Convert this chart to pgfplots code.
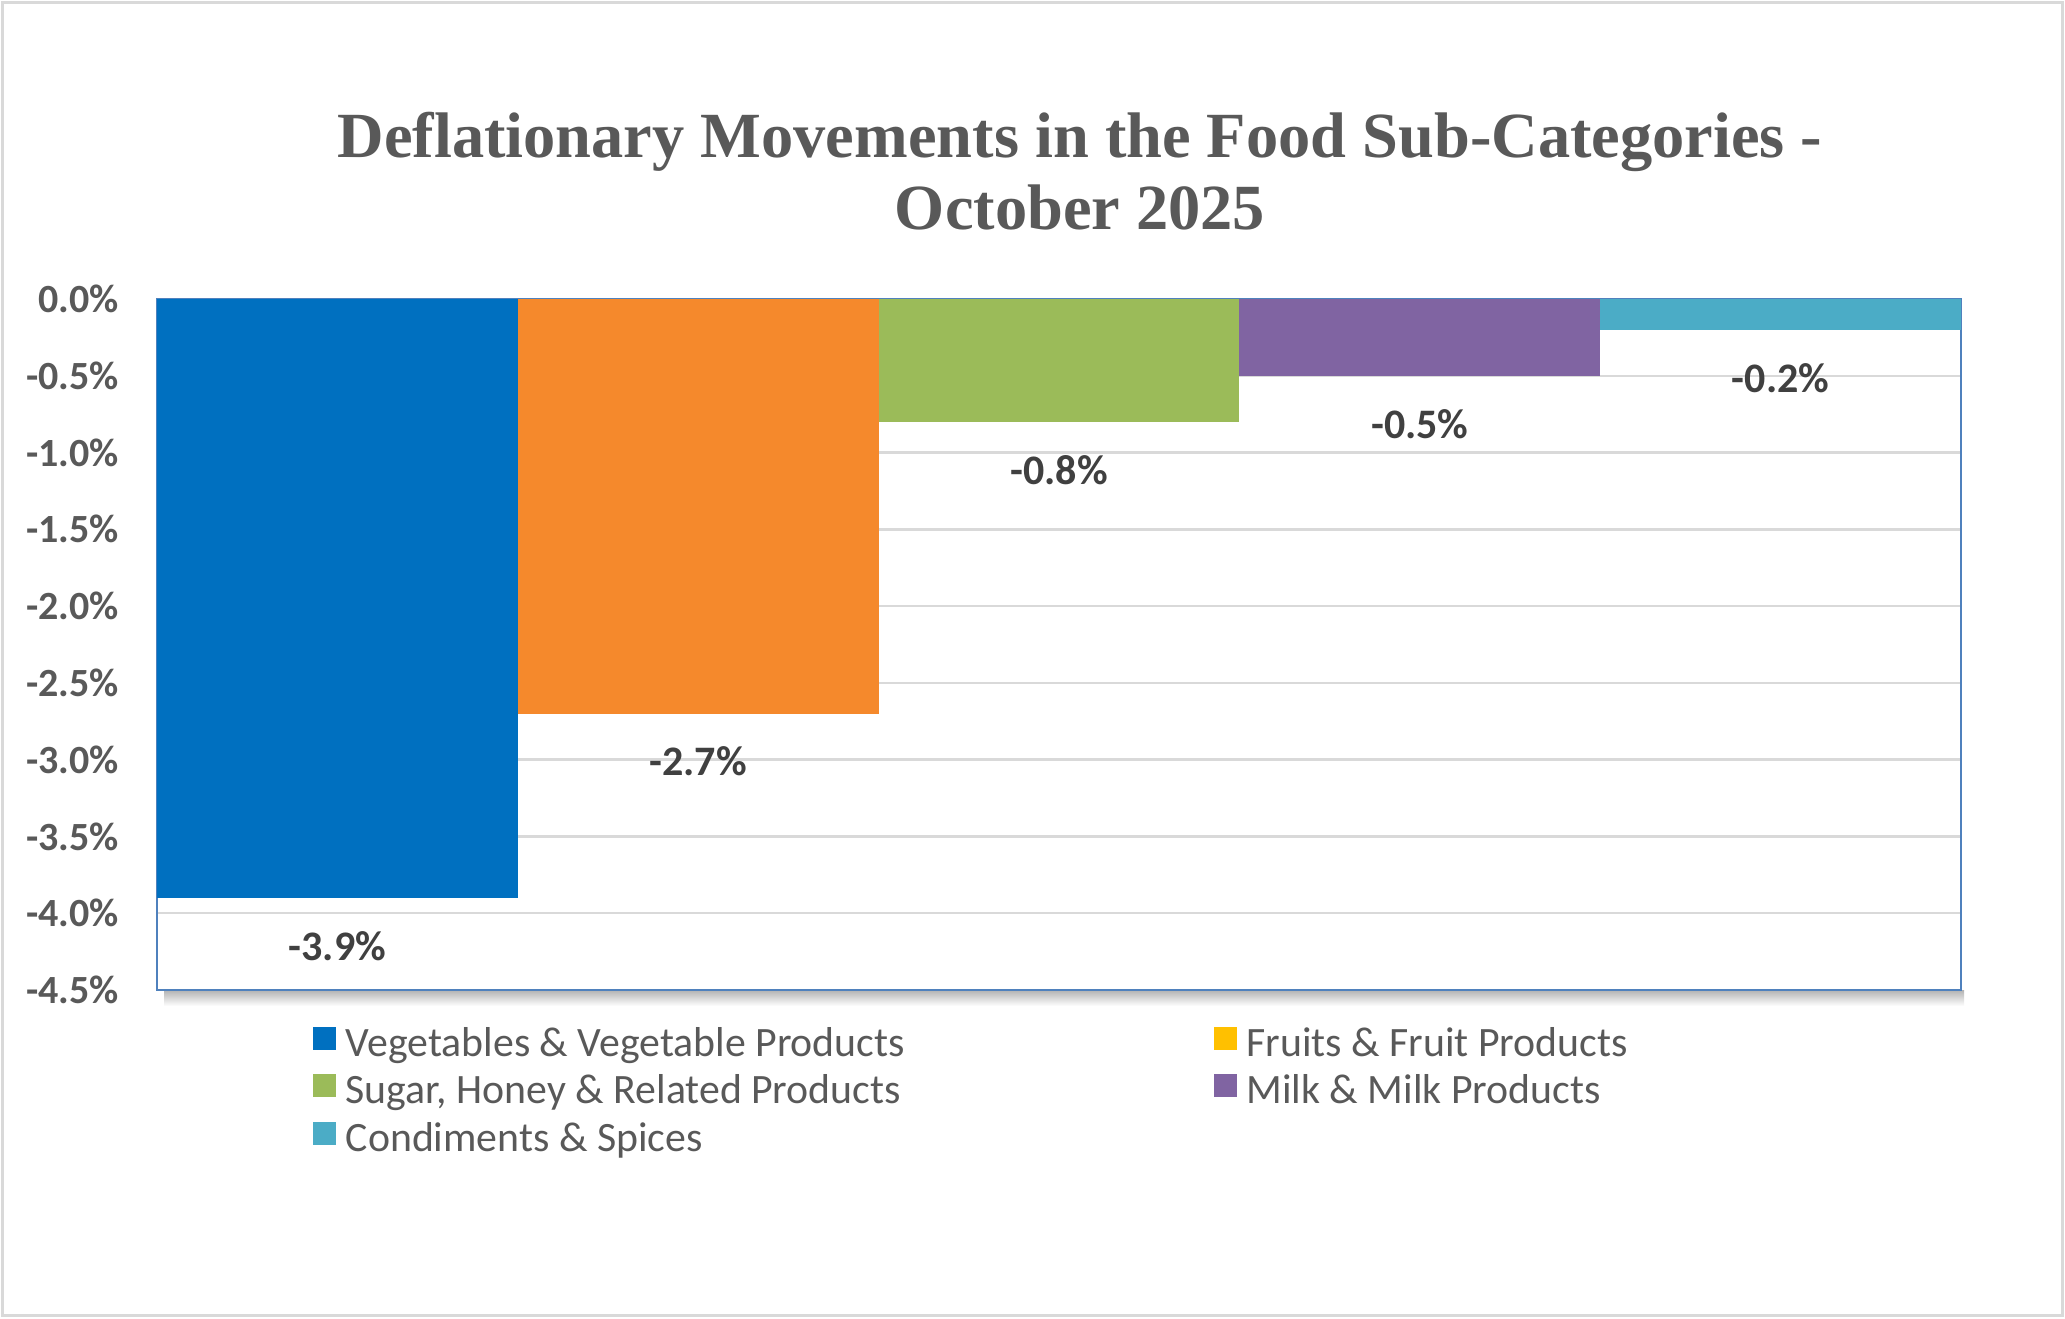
\documentclass[border=0pt]{standalone}
\usepackage{pgfplots}
\pgfplotsset{compat=1.18}
\usepackage{fontspec}
\setmainfont{Carlito}
\newfontfamily\titlefont{Liberation Serif}
\definecolor{vegblue}{HTML}{0070C0}
\definecolor{fruityellow}{HTML}{FFC000}
\definecolor{barorange}{HTML}{F5892C}
\definecolor{sugargreen}{HTML}{9BBB59}
\definecolor{milkpurple}{HTML}{8064A2}
\definecolor{condteal}{HTML}{4BACC6}
\definecolor{titlegray}{HTML}{595959}
\definecolor{labelgray}{HTML}{404040}
\definecolor{gridgray}{HTML}{D9D9D9}
\definecolor{framegray}{HTML}{D9D9D9}
\definecolor{axisblue}{HTML}{4F81BD}
\begin{document}
\begin{tikzpicture}
\path[use as bounding box] (0,0) rectangle (516.25pt,329.5pt);
\draw[color=framegray, line width=0.7pt] (0.7pt,0.7pt) rectangle (515.55pt,328.8pt);
\shade[top color=black!30, bottom color=white, draw=none] (41pt,78pt) rectangle (491pt,82pt);
\node[anchor=base, font=\titlefont\bfseries\fontsize{16.1}{18}\selectfont, text=titlegray] at (270pt,290.2pt) {Deflationary Movements in the Food Sub-Categories -};
\node[anchor=base, font=\titlefont\bfseries\fontsize{16.1}{18}\selectfont, text=titlegray] at (270pt,272.2pt) {October 2025};
\begin{axis}[
  name=ax,
  at={(39.25pt,82pt)}, anchor=south west,
  scale only axis, width=451pt, height=172.75pt,
  xmin=-0.5, xmax=4.5, ymin=-4.5, ymax=0,
  xtick=\empty,
  ytick={-4.5,-4,-3.5,-3,-2.5,-2,-1.5,-1,-0.5,0},
  yticklabel={\pgfmathprintnumber[fixed,fixed zerofill,precision=1]{\tick}\%},
  /pgf/number format/assume math mode=true,
  yticklabel style={font=\bfseries\fontsize{10}{12}\selectfont, text=titlegray, anchor=east, xshift=-6pt},
  major tick length=0pt,
  ymajorgrids,
  grid style={gridgray, line width=0.6pt},
  axis line style={axisblue, line width=0.4pt},
  axis background/.style={fill=white},
  nodes near coords={\pgfmathprintnumber[fixed,fixed zerofill,precision=1]{\pgfplotspointmeta}\%},
  every node near coord/.append style={font=\bfseries\fontsize{10.5}{12}\selectfont, text=labelgray, anchor=center, yshift=-12pt},
  legend columns=2,
  legend style={at={(0.08647,-0.0528)}, anchor=north west, draw=none, fill=none,
    inner sep=0pt, outer sep=0pt, row sep=1.85pt,
    font=\fontsize{10.45}{12}\selectfont, text=titlegray,
    nodes={inner sep=0pt, text height=7.5pt, text depth=2.5pt},
    /tikz/every odd column/.append style={column sep=2.5pt},
    /tikz/every even column/.append style={column sep=0pt}},
  legend cell align=left,
  legend image code/.code={\fill[#1, draw=none] (0pt,-0.85pt) rectangle (5.7pt,4.85pt);},
]
\addplot[ybar, bar width=1, bar shift=0pt, fill=vegblue, draw=none] coordinates {(0,-3.9)};
\addlegendentry{\makebox[217pt][l]{Vegetables \& Vegetable Products}}
\addlegendimage{fill=fruityellow}
\addlegendentry{Fruits \& Fruit Products}
\addplot[ybar, bar width=1, bar shift=0pt, fill=barorange, draw=none, forget plot] coordinates {(1,-2.7)};
\addplot[ybar, bar width=1, bar shift=0pt, fill=sugargreen, draw=none] coordinates {(2,-0.8)};
\addlegendentry{\makebox[217pt][l]{Sugar, Honey \& Related Products}}
\addplot[ybar, bar width=1, bar shift=0pt, fill=milkpurple, draw=none] coordinates {(3,-0.5)};
\addlegendentry{Milk \& Milk Products}
\addplot[ybar, bar width=1, bar shift=0pt, fill=condteal, draw=none] coordinates {(4,-0.2)};
\addlegendentry{\makebox[217pt][l]{Condiments \& Spices}}
\end{axis}
\end{tikzpicture}
\end{document}
